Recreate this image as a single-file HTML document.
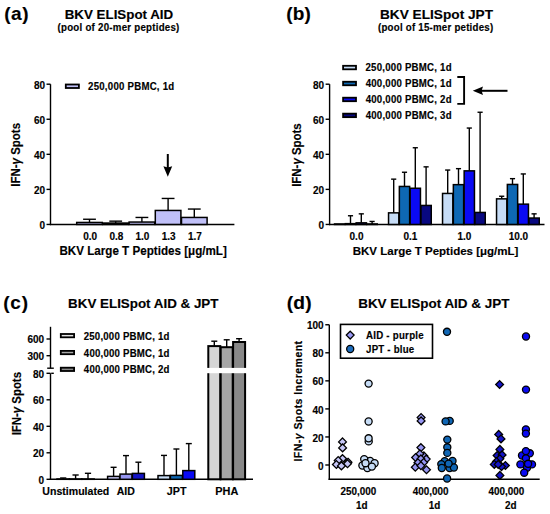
<!DOCTYPE html>
<html><head><meta charset="utf-8"><style>
html,body{margin:0;padding:0;background:#fff;overflow:hidden;width:550px;height:514px;}
svg{display:block;}
text{font-family:"Liberation Sans",sans-serif;font-weight:bold;stroke:#000;stroke-width:0.15px;}
</style></head><body>
<svg width="550" height="514" viewBox="0 0 550 514">
<rect width="550" height="514" fill="#fff"/>
<text x="4.15" y="20.00" font-size="19.00" fill="#000"  letter-spacing="0.591">(a)</text>
<text x="64.71" y="19.10" font-size="13.35" fill="#000" >BKV ELISpot AID</text>
<text transform="translate(57.52,31.40) scale(1,1.04)" font-size="9.70" fill="#000"  letter-spacing="0.258">(pool of 20-mer peptides)</text>
<g transform="translate(0,0.45)">
<line x1="50.50" y1="224.70" x2="50.50" y2="83.75" stroke="#000" stroke-width="1.4"/>
<line x1="46.50" y1="224.00" x2="50.50" y2="224.00" stroke="#000" stroke-width="1.4"/>
<text x="39.45" y="228.34" font-size="10.00" fill="#000" >0</text>
<line x1="46.50" y1="188.94" x2="50.50" y2="188.94" stroke="#000" stroke-width="1.4"/>
<text x="33.89" y="193.28" font-size="10.00" fill="#000" >20</text>
<line x1="46.50" y1="153.88" x2="50.50" y2="153.88" stroke="#000" stroke-width="1.4"/>
<text x="33.89" y="158.22" font-size="10.00" fill="#000" >40</text>
<line x1="46.50" y1="118.81" x2="50.50" y2="118.81" stroke="#000" stroke-width="1.4"/>
<text x="33.89" y="123.15" font-size="10.00" fill="#000" >60</text>
<line x1="46.50" y1="83.75" x2="50.50" y2="83.75" stroke="#000" stroke-width="1.4"/>
<text x="33.89" y="88.09" font-size="10.00" fill="#000" >80</text>
<line x1="49.80" y1="224.00" x2="234.40" y2="224.00" stroke="#000" stroke-width="1.4"/>
<text transform="translate(20.10,185.50) rotate(-90) scale(1,1.05)" x="-0.77" y="0" font-size="11.49">IFN-<tspan font-style="italic">γ</tspan> Spots</text>
<rect x="76.70" y="222.00" width="25.60" height="2.00" fill="#c0c0f8" stroke="#000" stroke-width="1.5"/>
<line x1="89.50" y1="222.00" x2="89.50" y2="218.80" stroke="#000" stroke-width="1.4"/>
<line x1="83.10" y1="218.80" x2="95.90" y2="218.80" stroke="#000" stroke-width="1.4"/>
<rect x="102.90" y="222.60" width="25.60" height="1.40" fill="#c0c0f8" stroke="#000" stroke-width="1.5"/>
<line x1="115.70" y1="222.60" x2="115.70" y2="220.70" stroke="#000" stroke-width="1.4"/>
<line x1="109.30" y1="220.70" x2="122.10" y2="220.70" stroke="#000" stroke-width="1.4"/>
<rect x="129.10" y="221.60" width="25.60" height="2.40" fill="#c0c0f8" stroke="#000" stroke-width="1.5"/>
<line x1="141.90" y1="221.60" x2="141.90" y2="217.00" stroke="#000" stroke-width="1.4"/>
<line x1="135.50" y1="217.00" x2="148.30" y2="217.00" stroke="#000" stroke-width="1.4"/>
<rect x="155.30" y="210.00" width="25.60" height="14.00" fill="#c0c0f8" stroke="#000" stroke-width="1.5"/>
<line x1="168.10" y1="210.00" x2="168.10" y2="198.00" stroke="#000" stroke-width="1.4"/>
<line x1="161.70" y1="198.00" x2="174.50" y2="198.00" stroke="#000" stroke-width="1.4"/>
<rect x="181.50" y="217.00" width="25.60" height="7.00" fill="#c0c0f8" stroke="#000" stroke-width="1.5"/>
<line x1="194.30" y1="217.00" x2="194.30" y2="208.60" stroke="#000" stroke-width="1.4"/>
<line x1="187.90" y1="208.60" x2="200.70" y2="208.60" stroke="#000" stroke-width="1.4"/>
</g>
<text x="83.25" y="240.00" font-size="10.00" fill="#000" >0.0</text>
<text x="109.41" y="240.00" font-size="10.00" fill="#000" >0.8</text>
<text x="135.54" y="240.00" font-size="10.00" fill="#000" >1.0</text>
<text x="161.71" y="240.00" font-size="10.00" fill="#000" >1.3</text>
<text x="187.96" y="240.00" font-size="10.00" fill="#000" >1.7</text>
<text transform="translate(59.42,254.50) scale(1,1.02)" font-size="11.65" fill="#000" >BKV Large T Peptides [μg/mL]</text>
<line x1="167.80" y1="154.00" x2="167.80" y2="169.00" stroke="#000" stroke-width="2.0"/>
<polygon points="163.4,166.2 167.8,167.6 172.2,166.2 167.8,176.8" fill="#000"/>
<rect x="65.80" y="84.50" width="13.10" height="3.50" fill="#c0c0f8" stroke="#000" stroke-width="1.8"/>
<text transform="translate(88.06,89.80) scale(1,1.04)" font-size="9.65" fill="#000"  letter-spacing="0.245">250,000 PBMC, 1d</text>
<text x="286.15" y="20.00" font-size="19.00" fill="#000"  letter-spacing="0.268">(b)</text>
<text x="379.98" y="19.10" font-size="13.66" fill="#000" >BKV ELISpot JPT</text>
<text transform="translate(378.01,31.40) scale(1,1.04)" font-size="9.70" fill="#000"  letter-spacing="0.236">(pool of 15-mer petides)</text>
<g transform="translate(0,0.45)">
<line x1="329.60" y1="224.70" x2="329.60" y2="83.75" stroke="#000" stroke-width="1.4"/>
<line x1="325.60" y1="224.00" x2="329.60" y2="224.00" stroke="#000" stroke-width="1.4"/>
<text x="318.45" y="228.34" font-size="10.00" fill="#000" >0</text>
<line x1="325.60" y1="188.94" x2="329.60" y2="188.94" stroke="#000" stroke-width="1.4"/>
<text x="312.89" y="193.28" font-size="10.00" fill="#000" >20</text>
<line x1="325.60" y1="153.88" x2="329.60" y2="153.88" stroke="#000" stroke-width="1.4"/>
<text x="312.89" y="158.22" font-size="10.00" fill="#000" >40</text>
<line x1="325.60" y1="118.81" x2="329.60" y2="118.81" stroke="#000" stroke-width="1.4"/>
<text x="312.89" y="123.15" font-size="10.00" fill="#000" >60</text>
<line x1="325.60" y1="83.75" x2="329.60" y2="83.75" stroke="#000" stroke-width="1.4"/>
<text x="312.89" y="88.09" font-size="10.00" fill="#000" >80</text>
<line x1="328.90" y1="224.00" x2="544.50" y2="224.00" stroke="#000" stroke-width="1.4"/>
<text transform="translate(300.60,185.60) rotate(-90) scale(1,1.05)" x="-0.77" y="0" font-size="11.45">IFN-<tspan font-style="italic">γ</tspan> Spots</text>
<rect x="334.55" y="223.50" width="10.30" height="0.50" fill="#c6dcf6" stroke="#000" stroke-width="1.5"/>
<rect x="345.35" y="223.20" width="10.30" height="0.80" fill="#0e68b4" stroke="#000" stroke-width="1.5"/>
<line x1="350.50" y1="223.20" x2="350.50" y2="215.30" stroke="#000" stroke-width="1.4"/>
<line x1="347.93" y1="215.30" x2="353.07" y2="215.30" stroke="#000" stroke-width="1.4"/>
<rect x="356.15" y="222.40" width="10.30" height="1.60" fill="#0a0af4" stroke="#000" stroke-width="1.5"/>
<line x1="361.30" y1="222.40" x2="361.30" y2="213.40" stroke="#000" stroke-width="1.4"/>
<line x1="358.72" y1="213.40" x2="363.87" y2="213.40" stroke="#000" stroke-width="1.4"/>
<rect x="366.95" y="223.50" width="10.30" height="0.50" fill="#080880" stroke="#000" stroke-width="1.5"/>
<line x1="372.10" y1="223.50" x2="372.10" y2="221.00" stroke="#000" stroke-width="1.4"/>
<line x1="369.52" y1="221.00" x2="374.67" y2="221.00" stroke="#000" stroke-width="1.4"/>
<rect x="388.55" y="212.40" width="10.30" height="11.60" fill="#c6dcf6" stroke="#000" stroke-width="1.5"/>
<line x1="393.70" y1="212.40" x2="393.70" y2="178.70" stroke="#000" stroke-width="1.4"/>
<line x1="391.12" y1="178.70" x2="396.27" y2="178.70" stroke="#000" stroke-width="1.4"/>
<rect x="399.35" y="186.00" width="10.30" height="38.00" fill="#0e68b4" stroke="#000" stroke-width="1.5"/>
<line x1="404.50" y1="186.00" x2="404.50" y2="171.80" stroke="#000" stroke-width="1.4"/>
<line x1="401.93" y1="171.80" x2="407.07" y2="171.80" stroke="#000" stroke-width="1.4"/>
<rect x="410.15" y="187.80" width="10.30" height="36.20" fill="#0a0af4" stroke="#000" stroke-width="1.5"/>
<line x1="415.30" y1="187.80" x2="415.30" y2="147.30" stroke="#000" stroke-width="1.4"/>
<line x1="412.72" y1="147.30" x2="417.87" y2="147.30" stroke="#000" stroke-width="1.4"/>
<rect x="420.95" y="205.00" width="10.30" height="19.00" fill="#080880" stroke="#000" stroke-width="1.5"/>
<line x1="426.10" y1="205.00" x2="426.10" y2="166.40" stroke="#000" stroke-width="1.4"/>
<line x1="423.52" y1="166.40" x2="428.67" y2="166.40" stroke="#000" stroke-width="1.4"/>
<rect x="442.55" y="193.00" width="10.30" height="31.00" fill="#c6dcf6" stroke="#000" stroke-width="1.5"/>
<line x1="447.70" y1="193.00" x2="447.70" y2="169.60" stroke="#000" stroke-width="1.4"/>
<line x1="445.12" y1="169.60" x2="450.27" y2="169.60" stroke="#000" stroke-width="1.4"/>
<rect x="453.35" y="184.20" width="10.30" height="39.80" fill="#0e68b4" stroke="#000" stroke-width="1.5"/>
<line x1="458.50" y1="184.20" x2="458.50" y2="168.20" stroke="#000" stroke-width="1.4"/>
<line x1="455.93" y1="168.20" x2="461.07" y2="168.20" stroke="#000" stroke-width="1.4"/>
<rect x="464.15" y="170.40" width="10.30" height="53.60" fill="#0a0af4" stroke="#000" stroke-width="1.5"/>
<line x1="469.30" y1="170.40" x2="469.30" y2="127.60" stroke="#000" stroke-width="1.4"/>
<line x1="466.72" y1="127.60" x2="471.87" y2="127.60" stroke="#000" stroke-width="1.4"/>
<rect x="474.95" y="212.00" width="10.30" height="12.00" fill="#080880" stroke="#000" stroke-width="1.5"/>
<line x1="480.10" y1="212.00" x2="480.10" y2="111.80" stroke="#000" stroke-width="1.4"/>
<line x1="477.52" y1="111.80" x2="482.67" y2="111.80" stroke="#000" stroke-width="1.4"/>
<rect x="496.55" y="198.40" width="10.30" height="25.60" fill="#c6dcf6" stroke="#000" stroke-width="1.5"/>
<line x1="501.70" y1="198.40" x2="501.70" y2="195.80" stroke="#000" stroke-width="1.4"/>
<line x1="499.12" y1="195.80" x2="504.27" y2="195.80" stroke="#000" stroke-width="1.4"/>
<rect x="507.35" y="184.00" width="10.30" height="40.00" fill="#0e68b4" stroke="#000" stroke-width="1.5"/>
<line x1="512.50" y1="184.00" x2="512.50" y2="178.20" stroke="#000" stroke-width="1.4"/>
<line x1="509.93" y1="178.20" x2="515.08" y2="178.20" stroke="#000" stroke-width="1.4"/>
<rect x="518.15" y="203.70" width="10.30" height="20.30" fill="#0a0af4" stroke="#000" stroke-width="1.5"/>
<line x1="523.30" y1="203.70" x2="523.30" y2="173.50" stroke="#000" stroke-width="1.4"/>
<line x1="520.72" y1="173.50" x2="525.88" y2="173.50" stroke="#000" stroke-width="1.4"/>
<rect x="528.95" y="217.60" width="10.30" height="6.40" fill="#080880" stroke="#000" stroke-width="1.5"/>
<line x1="534.10" y1="217.60" x2="534.10" y2="213.40" stroke="#000" stroke-width="1.4"/>
<line x1="531.52" y1="213.40" x2="536.68" y2="213.40" stroke="#000" stroke-width="1.4"/>
</g>
<text x="349.56" y="239.50" font-size="10.00" fill="#000" >0.0</text>
<text x="403.49" y="239.50" font-size="10.00" fill="#000" >0.1</text>
<text x="457.44" y="239.50" font-size="10.00" fill="#000" >1.0</text>
<text x="508.66" y="239.50" font-size="10.00" fill="#000" >10.0</text>
<text transform="translate(352.73,254.50) scale(1,1.02)" font-size="11.53" fill="#000" >BKV Large T Peptides [μg/mL]</text>
<rect x="343.10" y="65.80" width="12.90" height="3.50" fill="#c6dcf6" stroke="#000" stroke-width="1.8"/>
<text transform="translate(365.46,71.30) scale(1,1.04)" font-size="9.65" fill="#000"  letter-spacing="0.245">250,000 PBMC, 1d</text>
<rect x="343.10" y="81.75" width="12.90" height="3.50" fill="#0e68b4" stroke="#000" stroke-width="1.8"/>
<text transform="translate(365.66,87.25) scale(1,1.04)" font-size="9.65" fill="#000"  letter-spacing="0.232">400,000 PBMC, 1d</text>
<rect x="343.10" y="97.70" width="12.90" height="3.50" fill="#0a0af4" stroke="#000" stroke-width="1.8"/>
<text transform="translate(365.66,103.20) scale(1,1.04)" font-size="9.65" fill="#000"  letter-spacing="0.232">400,000 PBMC, 2d</text>
<rect x="343.10" y="113.65" width="12.90" height="3.50" fill="#080880" stroke="#000" stroke-width="1.8"/>
<text transform="translate(365.66,119.15) scale(1,1.04)" font-size="9.65" fill="#000"  letter-spacing="0.232">400,000 PBMC, 3d</text>
<polyline points="457.3,77 464.1,77 464.1,103.9 457.3,103.9" fill="none" stroke="#000" stroke-width="1.9"/>
<line x1="481.00" y1="90.80" x2="507.50" y2="90.80" stroke="#000" stroke-width="2.0"/>
<polygon points="472.8,90.8 483,86.5 481.6,90.8 483,95.1" fill="#000"/>
<text x="3.25" y="308.60" font-size="19.00" fill="#000"  letter-spacing="0.791">(c)</text>
<text x="68.10" y="307.60" font-size="13.38" fill="#000" >BKV ELISpot AID &amp; JPT</text>
<line x1="50.50" y1="480.00" x2="50.50" y2="373.30" stroke="#000" stroke-width="1.4"/>
<line x1="46.50" y1="479.30" x2="50.50" y2="479.30" stroke="#000" stroke-width="1.4"/>
<text x="38.55" y="483.60" font-size="10.00" fill="#000" >0</text>
<line x1="46.50" y1="452.80" x2="50.50" y2="452.80" stroke="#000" stroke-width="1.4"/>
<text x="32.99" y="457.10" font-size="10.00" fill="#000" >20</text>
<line x1="46.50" y1="426.30" x2="50.50" y2="426.30" stroke="#000" stroke-width="1.4"/>
<text x="32.99" y="430.60" font-size="10.00" fill="#000" >40</text>
<line x1="46.50" y1="399.80" x2="50.50" y2="399.80" stroke="#000" stroke-width="1.4"/>
<text x="32.99" y="404.10" font-size="10.00" fill="#000" >60</text>
<line x1="46.50" y1="373.30" x2="50.50" y2="373.30" stroke="#000" stroke-width="1.4"/>
<text x="32.99" y="377.60" font-size="10.00" fill="#000" >80</text>
<line x1="51.20" y1="373.30" x2="53.80" y2="373.30" stroke="#000" stroke-width="1.4"/>
<line x1="50.50" y1="368.20" x2="50.50" y2="326.80" stroke="#000" stroke-width="1.4"/>
<line x1="47.20" y1="368.20" x2="53.80" y2="368.20" stroke="#000" stroke-width="1.4"/>
<line x1="46.50" y1="339.00" x2="50.50" y2="339.00" stroke="#000" stroke-width="1.4"/>
<text x="27.43" y="343.30" font-size="10.00" fill="#000" >600</text>
<line x1="46.50" y1="355.70" x2="50.50" y2="355.70" stroke="#000" stroke-width="1.4"/>
<text x="27.43" y="360.00" font-size="10.00" fill="#000" >300</text>
<line x1="49.80" y1="479.30" x2="253.00" y2="479.30" stroke="#000" stroke-width="1.4"/>
<text transform="translate(21.20,434.60) rotate(-90) scale(1,1.05)" x="-0.76" y="0" font-size="11.42">IFN-<tspan font-style="italic">γ</tspan> Spots</text>
<rect x="57.00" y="479.00" width="12.40" height="0.30" fill="#ddd" stroke="#000" stroke-width="1.5"/>
<line x1="63.20" y1="479.00" x2="63.20" y2="478.00" stroke="#000" stroke-width="1.4"/>
<line x1="60.10" y1="478.00" x2="66.30" y2="478.00" stroke="#000" stroke-width="1.4"/>
<rect x="69.40" y="479.00" width="12.40" height="0.30" fill="#ddd" stroke="#000" stroke-width="1.5"/>
<line x1="75.60" y1="479.00" x2="75.60" y2="475.00" stroke="#000" stroke-width="1.4"/>
<line x1="72.50" y1="475.00" x2="78.70" y2="475.00" stroke="#000" stroke-width="1.4"/>
<rect x="81.80" y="479.00" width="12.40" height="0.30" fill="#ddd" stroke="#000" stroke-width="1.5"/>
<line x1="88.00" y1="479.00" x2="88.00" y2="473.30" stroke="#000" stroke-width="1.4"/>
<line x1="84.90" y1="473.30" x2="91.10" y2="473.30" stroke="#000" stroke-width="1.4"/>
<rect x="107.60" y="476.40" width="12.00" height="2.90" fill="#c6c6f6" stroke="#000" stroke-width="1.5"/>
<line x1="113.60" y1="476.40" x2="113.60" y2="467.30" stroke="#000" stroke-width="1.4"/>
<line x1="110.60" y1="467.30" x2="116.60" y2="467.30" stroke="#000" stroke-width="1.4"/>
<rect x="120.00" y="474.10" width="12.00" height="5.20" fill="#9696f2" stroke="#000" stroke-width="1.5"/>
<line x1="126.00" y1="474.10" x2="126.00" y2="455.60" stroke="#000" stroke-width="1.4"/>
<line x1="123.00" y1="455.60" x2="129.00" y2="455.60" stroke="#000" stroke-width="1.4"/>
<rect x="132.40" y="473.40" width="12.00" height="5.90" fill="#1414c8" stroke="#000" stroke-width="1.5"/>
<line x1="138.40" y1="473.40" x2="138.40" y2="462.20" stroke="#000" stroke-width="1.4"/>
<line x1="135.40" y1="462.20" x2="141.40" y2="462.20" stroke="#000" stroke-width="1.4"/>
<rect x="158.00" y="475.60" width="12.00" height="3.70" fill="#c6dcf6" stroke="#000" stroke-width="1.5"/>
<line x1="164.00" y1="475.60" x2="164.00" y2="455.40" stroke="#000" stroke-width="1.4"/>
<line x1="161.00" y1="455.40" x2="167.00" y2="455.40" stroke="#000" stroke-width="1.4"/>
<rect x="170.40" y="475.40" width="12.00" height="3.90" fill="#0e68b4" stroke="#000" stroke-width="1.5"/>
<line x1="176.40" y1="475.40" x2="176.40" y2="449.00" stroke="#000" stroke-width="1.4"/>
<line x1="173.40" y1="449.00" x2="179.40" y2="449.00" stroke="#000" stroke-width="1.4"/>
<rect x="182.80" y="470.60" width="12.00" height="8.70" fill="#0a0af4" stroke="#000" stroke-width="1.5"/>
<line x1="188.80" y1="470.60" x2="188.80" y2="443.60" stroke="#000" stroke-width="1.4"/>
<line x1="185.80" y1="443.60" x2="191.80" y2="443.60" stroke="#000" stroke-width="1.4"/>
<rect x="208.30" y="346.10" width="12.00" height="133.20" fill="#d6d6d6" stroke="#000" stroke-width="2.0"/>
<line x1="214.30" y1="346.10" x2="214.30" y2="341.20" stroke="#000" stroke-width="1.4"/>
<line x1="211.30" y1="341.20" x2="217.30" y2="341.20" stroke="#000" stroke-width="1.4"/>
<rect x="220.70" y="347.20" width="12.00" height="132.10" fill="#a6a6a6" stroke="#000" stroke-width="2.0"/>
<line x1="226.70" y1="347.20" x2="226.70" y2="339.80" stroke="#000" stroke-width="1.4"/>
<line x1="223.70" y1="339.80" x2="229.70" y2="339.80" stroke="#000" stroke-width="1.4"/>
<rect x="233.10" y="342.00" width="12.00" height="137.30" fill="#888888" stroke="#000" stroke-width="2.0"/>
<line x1="239.10" y1="342.00" x2="239.10" y2="338.70" stroke="#000" stroke-width="1.4"/>
<line x1="236.10" y1="338.70" x2="242.10" y2="338.70" stroke="#000" stroke-width="1.4"/>
<rect x="205" y="367.9" width="45" height="5.3" fill="#fff"/>
<text x="42.37" y="494.80" font-size="10.57" fill="#000" >Unstimulated</text>
<text x="116.74" y="494.80" font-size="10.51" fill="#000" >AID</text>
<text x="166.84" y="494.80" font-size="10.73" fill="#000" >JPT</text>
<text x="215.27" y="494.80" font-size="10.90" fill="#000" >PHA</text>
<rect x="60.80" y="334.00" width="13.30" height="3.30" fill="#e4e4e4" stroke="#000" stroke-width="1.8"/>
<text transform="translate(83.66,340.00) scale(1,1.04)" font-size="9.65" fill="#000"  letter-spacing="0.218">250,000 PBMC, 1d</text>
<rect x="60.80" y="350.90" width="13.30" height="3.30" fill="#a8a8a8" stroke="#000" stroke-width="1.8"/>
<text transform="translate(83.86,356.60) scale(1,1.04)" font-size="9.65" fill="#000"  letter-spacing="0.205">400,000 PBMC, 1d</text>
<rect x="60.80" y="367.70" width="13.30" height="3.30" fill="#888888" stroke="#000" stroke-width="1.8"/>
<text transform="translate(83.86,372.80) scale(1,1.04)" font-size="9.65" fill="#000"  letter-spacing="0.205">400,000 PBMC, 2d</text>
<text x="286.74" y="308.60" font-size="19.20" fill="#000"  letter-spacing="0.151">(d)</text>
<text x="358.20" y="307.50" font-size="13.46" fill="#000" >BKV ELISpot AID &amp; JPT</text>
<line x1="329.30" y1="480.00" x2="329.30" y2="324.70" stroke="#000" stroke-width="1.4"/>
<line x1="325.30" y1="465.00" x2="329.30" y2="465.00" stroke="#000" stroke-width="1.4"/>
<text x="318.05" y="469.60" font-size="10.00" fill="#000" >0</text>
<line x1="325.30" y1="436.95" x2="329.30" y2="436.95" stroke="#000" stroke-width="1.4"/>
<text x="312.49" y="441.55" font-size="10.00" fill="#000" >20</text>
<line x1="325.30" y1="408.90" x2="329.30" y2="408.90" stroke="#000" stroke-width="1.4"/>
<text x="312.49" y="413.50" font-size="10.00" fill="#000" >40</text>
<line x1="325.30" y1="380.85" x2="329.30" y2="380.85" stroke="#000" stroke-width="1.4"/>
<text x="312.49" y="385.45" font-size="10.00" fill="#000" >60</text>
<line x1="325.30" y1="352.80" x2="329.30" y2="352.80" stroke="#000" stroke-width="1.4"/>
<text x="312.49" y="357.40" font-size="10.00" fill="#000" >80</text>
<line x1="325.30" y1="324.75" x2="329.30" y2="324.75" stroke="#000" stroke-width="1.4"/>
<text x="306.93" y="329.35" font-size="10.00" fill="#000" >100</text>
<line x1="328.60" y1="479.30" x2="539.70" y2="479.30" stroke="#000" stroke-width="1.4"/>
<text transform="translate(302.20,460.80) rotate(-90) scale(1,1.05)" x="-0.71" y="0" font-size="10.60" letter-spacing="0.412">IFN-<tspan font-style="italic">γ</tspan> Spots Increment</text>
<rect x="340.5" y="324.4" width="92" height="33.8" fill="#fff" stroke="#000" stroke-width="1.6"/>
<polygon points="350.20,331.20 354.10,335.10 350.20,339.00 346.30,335.10" fill="#9a9af5" stroke="#000" stroke-width="1.3"/>
<circle cx="350.20" cy="349.00" r="3.55" fill="#1c6cbc" stroke="#000" stroke-width="1.3"/>
<text transform="translate(365.96,339.20) scale(1,1.04)" font-size="9.70" fill="#000"  letter-spacing="0.256">AID - purple</text>
<text transform="translate(366.05,353.20) scale(1,1.04)" font-size="9.70" fill="#000"  letter-spacing="0.214">JPT - blue</text>
<polygon points="342.50,438.00 346.40,441.90 342.50,445.80 338.60,441.90" fill="#c6c6f6" stroke="#000" stroke-width="1.3"/>
<polygon points="342.60,444.00 346.50,447.90 342.60,451.80 338.70,447.90" fill="#c6c6f6" stroke="#000" stroke-width="1.3"/>
<polygon points="342.50,454.70 346.40,458.60 342.50,462.50 338.60,458.60" fill="#c6c6f6" stroke="#000" stroke-width="1.3"/>
<polygon points="348.00,458.30 351.90,462.20 348.00,466.10 344.10,462.20" fill="#c6c6f6" stroke="#000" stroke-width="1.3"/>
<polygon points="338.20,456.60 342.10,460.50 338.20,464.40 334.30,460.50" fill="#c6c6f6" stroke="#000" stroke-width="1.3"/>
<polygon points="347.50,459.90 351.40,463.80 347.50,467.70 343.60,463.80" fill="#c6c6f6" stroke="#000" stroke-width="1.3"/>
<polygon points="336.40,460.60 340.30,464.50 336.40,468.40 332.50,464.50" fill="#c6c6f6" stroke="#000" stroke-width="1.3"/>
<polygon points="341.40,462.00 345.30,465.90 341.40,469.80 337.50,465.90" fill="#c6c6f6" stroke="#000" stroke-width="1.3"/>
<circle cx="368.60" cy="383.60" r="3.55" fill="#c6dcf6" stroke="#000" stroke-width="1.3"/>
<circle cx="368.60" cy="421.50" r="3.55" fill="#c6dcf6" stroke="#000" stroke-width="1.3"/>
<circle cx="368.70" cy="441.40" r="3.55" fill="#c6dcf6" stroke="#000" stroke-width="1.3"/>
<circle cx="368.60" cy="438.30" r="3.55" fill="#c6dcf6" stroke="#000" stroke-width="1.3"/>
<circle cx="370.10" cy="460.90" r="3.55" fill="#c6dcf6" stroke="#000" stroke-width="1.3"/>
<circle cx="364.20" cy="459.10" r="3.55" fill="#c6dcf6" stroke="#000" stroke-width="1.3"/>
<circle cx="374.60" cy="463.20" r="3.55" fill="#c6dcf6" stroke="#000" stroke-width="1.3"/>
<circle cx="362.40" cy="465.50" r="3.55" fill="#c6dcf6" stroke="#000" stroke-width="1.3"/>
<circle cx="367.40" cy="468.00" r="3.55" fill="#c6dcf6" stroke="#000" stroke-width="1.3"/>
<circle cx="365.50" cy="463.20" r="3.55" fill="#c6dcf6" stroke="#000" stroke-width="1.3"/>
<circle cx="371.90" cy="466.60" r="3.55" fill="#c6dcf6" stroke="#000" stroke-width="1.3"/>
<polygon points="421.10,413.60 425.00,417.50 421.10,421.40 417.20,417.50" fill="#9696f2" stroke="#000" stroke-width="1.3"/>
<polygon points="421.10,417.00 425.00,420.90 421.10,424.80 417.20,420.90" fill="#9696f2" stroke="#000" stroke-width="1.3"/>
<polygon points="420.90,443.70 424.80,447.60 420.90,451.50 417.00,447.60" fill="#9696f2" stroke="#000" stroke-width="1.3"/>
<polygon points="423.90,452.00 427.80,455.90 423.90,459.80 420.00,455.90" fill="#9696f2" stroke="#000" stroke-width="1.3"/>
<polygon points="419.90,450.00 423.80,453.90 419.90,457.80 416.00,453.90" fill="#9696f2" stroke="#000" stroke-width="1.3"/>
<polygon points="415.60,453.60 419.50,457.50 415.60,461.40 411.70,457.50" fill="#9696f2" stroke="#000" stroke-width="1.3"/>
<polygon points="426.20,455.20 430.10,459.10 426.20,463.00 422.30,459.10" fill="#9696f2" stroke="#000" stroke-width="1.3"/>
<polygon points="420.90,455.00 424.80,458.90 420.90,462.80 417.00,458.90" fill="#9696f2" stroke="#000" stroke-width="1.3"/>
<polygon points="423.60,458.60 427.50,462.50 423.60,466.40 419.70,462.50" fill="#9696f2" stroke="#000" stroke-width="1.3"/>
<polygon points="417.90,458.90 421.80,462.80 417.90,466.70 414.00,462.80" fill="#9696f2" stroke="#000" stroke-width="1.3"/>
<polygon points="426.50,465.90 430.40,469.80 426.50,473.70 422.60,469.80" fill="#9696f2" stroke="#000" stroke-width="1.3"/>
<polygon points="415.30,463.30 419.20,467.20 415.30,471.10 411.40,467.20" fill="#9696f2" stroke="#000" stroke-width="1.3"/>
<polygon points="420.90,461.90 424.80,465.80 420.90,469.70 417.00,465.80" fill="#9696f2" stroke="#000" stroke-width="1.3"/>
<circle cx="447.00" cy="331.80" r="3.55" fill="#1066b4" stroke="#000" stroke-width="1.3"/>
<circle cx="449.70" cy="420.90" r="3.55" fill="#1066b4" stroke="#000" stroke-width="1.3"/>
<circle cx="445.60" cy="421.40" r="3.55" fill="#1066b4" stroke="#000" stroke-width="1.3"/>
<circle cx="447.30" cy="439.60" r="3.55" fill="#1066b4" stroke="#000" stroke-width="1.3"/>
<circle cx="447.30" cy="447.30" r="3.55" fill="#1066b4" stroke="#000" stroke-width="1.3"/>
<circle cx="447.30" cy="452.90" r="3.55" fill="#1066b4" stroke="#000" stroke-width="1.3"/>
<circle cx="444.70" cy="461.20" r="3.55" fill="#1066b4" stroke="#000" stroke-width="1.3"/>
<circle cx="452.50" cy="461.00" r="3.55" fill="#1066b4" stroke="#000" stroke-width="1.3"/>
<circle cx="441.30" cy="464.10" r="3.55" fill="#1066b4" stroke="#000" stroke-width="1.3"/>
<circle cx="441.80" cy="468.00" r="3.55" fill="#1066b4" stroke="#000" stroke-width="1.3"/>
<circle cx="449.60" cy="468.00" r="3.55" fill="#1066b4" stroke="#000" stroke-width="1.3"/>
<circle cx="453.90" cy="467.50" r="3.55" fill="#1066b4" stroke="#000" stroke-width="1.3"/>
<circle cx="448.60" cy="463.60" r="3.55" fill="#1066b4" stroke="#000" stroke-width="1.3"/>
<circle cx="447.10" cy="478.50" r="3.55" fill="#1066b4" stroke="#000" stroke-width="1.3"/>
<polygon points="499.60,380.60 503.50,384.50 499.60,388.40 495.70,384.50" fill="#1414c8" stroke="#000" stroke-width="1.3"/>
<polygon points="498.70,430.50 502.60,434.40 498.70,438.30 494.80,434.40" fill="#1414c8" stroke="#000" stroke-width="1.3"/>
<polygon points="501.00,435.00 504.90,438.90 501.00,442.80 497.10,438.90" fill="#1414c8" stroke="#000" stroke-width="1.3"/>
<polygon points="499.90,445.50 503.80,449.40 499.90,453.30 496.00,449.40" fill="#1414c8" stroke="#000" stroke-width="1.3"/>
<polygon points="497.10,451.60 501.00,455.50 497.10,459.40 493.20,455.50" fill="#1414c8" stroke="#000" stroke-width="1.3"/>
<polygon points="502.10,451.00 506.00,454.90 502.10,458.80 498.20,454.90" fill="#1414c8" stroke="#000" stroke-width="1.3"/>
<polygon points="499.90,454.90 503.80,458.80 499.90,462.70 496.00,458.80" fill="#1414c8" stroke="#000" stroke-width="1.3"/>
<polygon points="496.50,457.60 500.40,461.50 496.50,465.40 492.60,461.50" fill="#1414c8" stroke="#000" stroke-width="1.3"/>
<polygon points="494.30,460.50 498.20,464.40 494.30,468.30 490.40,464.40" fill="#1414c8" stroke="#000" stroke-width="1.3"/>
<polygon points="505.40,461.60 509.30,465.50 505.40,469.40 501.50,465.50" fill="#1414c8" stroke="#000" stroke-width="1.3"/>
<polygon points="501.50,462.70 505.40,466.60 501.50,470.50 497.60,466.60" fill="#1414c8" stroke="#000" stroke-width="1.3"/>
<polygon points="498.20,460.50 502.10,464.40 498.20,468.30 494.30,464.40" fill="#1414c8" stroke="#000" stroke-width="1.3"/>
<polygon points="499.90,471.50 503.80,475.40 499.90,479.30 496.00,475.40" fill="#1414c8" stroke="#000" stroke-width="1.3"/>
<circle cx="526.00" cy="336.50" r="3.55" fill="#0a0af2" stroke="#000" stroke-width="1.3"/>
<circle cx="526.00" cy="389.60" r="3.55" fill="#0a0af2" stroke="#000" stroke-width="1.3"/>
<circle cx="525.90" cy="429.40" r="3.55" fill="#0a0af2" stroke="#000" stroke-width="1.3"/>
<circle cx="525.90" cy="433.60" r="3.55" fill="#0a0af2" stroke="#000" stroke-width="1.3"/>
<circle cx="529.80" cy="453.30" r="3.55" fill="#0a0af2" stroke="#000" stroke-width="1.3"/>
<circle cx="522.00" cy="455.50" r="3.55" fill="#0a0af2" stroke="#000" stroke-width="1.3"/>
<circle cx="525.90" cy="451.10" r="3.55" fill="#0a0af2" stroke="#000" stroke-width="1.3"/>
<circle cx="525.90" cy="458.30" r="3.55" fill="#0a0af2" stroke="#000" stroke-width="1.3"/>
<circle cx="527.00" cy="467.70" r="3.55" fill="#0a0af2" stroke="#000" stroke-width="1.3"/>
<circle cx="532.00" cy="464.40" r="3.55" fill="#0a0af2" stroke="#000" stroke-width="1.3"/>
<circle cx="520.40" cy="464.40" r="3.55" fill="#0a0af2" stroke="#000" stroke-width="1.3"/>
<circle cx="528.10" cy="463.80" r="3.55" fill="#0a0af2" stroke="#000" stroke-width="1.3"/>
<circle cx="524.20" cy="472.70" r="3.55" fill="#0a0af2" stroke="#000" stroke-width="1.3"/>
<text transform="translate(340.54,494.60) scale(1,1.06)" font-size="9.90" fill="#000" >250,000</text>
<text transform="translate(355.94,508.70) scale(1,1.06)" font-size="9.90" fill="#000" >1d</text>
<text transform="translate(412.83,494.60) scale(1,1.06)" font-size="9.90" fill="#000" >400,000</text>
<text transform="translate(428.84,508.70) scale(1,1.06)" font-size="9.90" fill="#000" >1d</text>
<text transform="translate(488.43,494.60) scale(1,1.06)" font-size="9.90" fill="#000" >400,000</text>
<text transform="translate(505.08,508.70) scale(1,1.06)" font-size="9.90" fill="#000" >2d</text>
</svg>
</body></html>
